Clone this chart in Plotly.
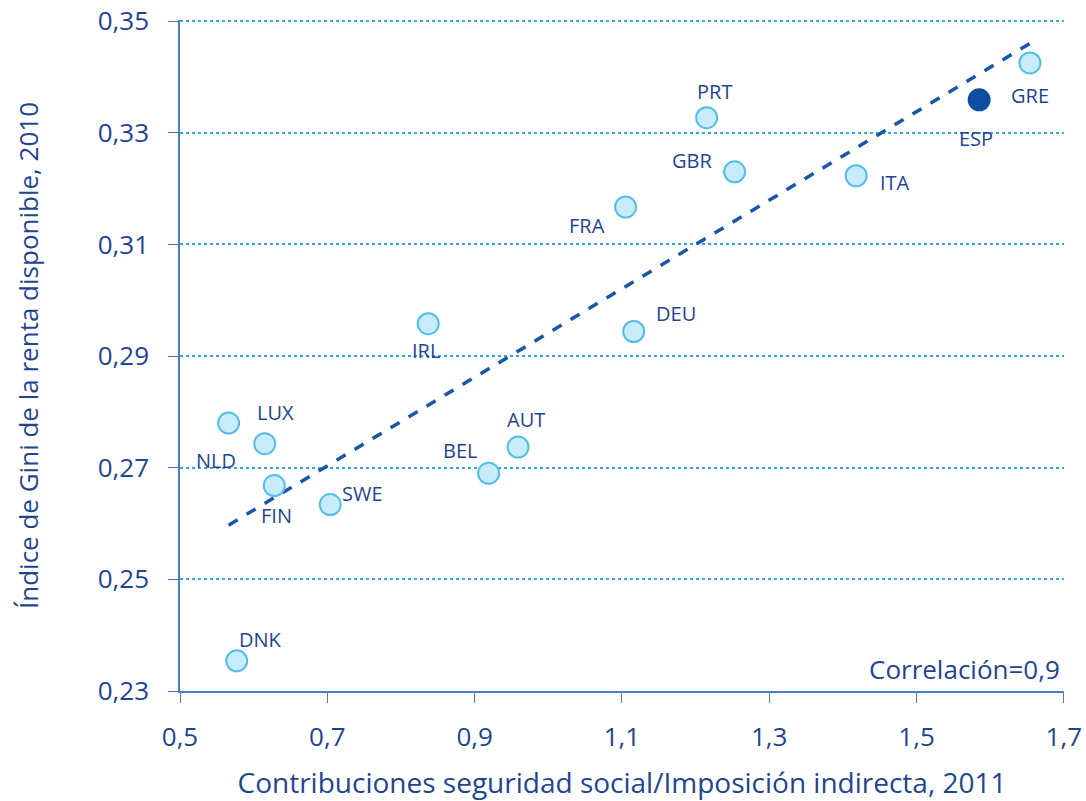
import numpy as np
import plotly.graph_objects as go

countries = ["NLD", "LUX", "FIN", "SWE", "DNK", "IRL", "BEL", "AUT", "DEU", "FRA", "PRT", "GBR", "ITA", "ESP", "GRE"]
x_vals = [0.566, 0.615, 0.628, 0.704, 0.577, 0.837, 0.919, 0.959, 1.116, 1.105, 1.215, 1.253, 1.418, 1.585, 1.654]
y_vals = [0.2780, 0.2743, 0.2668, 0.2634, 0.2354, 0.2958, 0.2690, 0.2737, 0.2944, 0.3167, 0.3327, 0.3230, 0.3223, 0.3359, 0.3425]
# label offsets in pixels (dx right, dy up)
label_dx = [-13, 11, 2, 32, 24, -2, -29, 8, 42, -39, 8, -43, 39, -3, 0]
label_dy = [-37, 31, -30, 11, 21, -27, 23, 28, 18, -18, 26, 11, -7, -39, -33]
x_ticks = [0.5, 0.7, 0.9, 1.1, 1.3, 1.5, 1.7]
y_ticks = [0.23, 0.25, 0.27, 0.29, 0.31, 0.33, 0.35]
highlight = "ESP"

TXT = "#1f4591"
AX = "#4a7cc7"
GRID = "#2fa8e0"
FONT = "Open Sans"

fig = go.Figure()

# trend line (OLS fit over the data range)
slope, intercept = np.polyfit(x_vals, y_vals, 1)
tx = np.array([min(x_vals), max(x_vals)])
fig.add_trace(go.Scatter(x=tx, y=slope * tx + intercept, mode="lines",
                         line=dict(color="#1857a8", width=3.5, dash="dash"),
                         hoverinfo="skip", showlegend=False))

colors = ["#0d4ea0" if c == highlight else "#c8ecfb" for c in countries]
borders = ["#0d4ea0" if c == highlight else "#55bde9" for c in countries]
fig.add_trace(go.Scatter(x=x_vals, y=y_vals, mode="markers",
                         marker=dict(size=21, color=colors, line=dict(color=borders, width=2)),
                         text=countries, showlegend=False))

for c, xv, yv, dx, dy in zip(countries, x_vals, y_vals, label_dx, label_dy):
    fig.add_annotation(x=xv, y=yv, text=c, showarrow=False, xshift=dx, yshift=dy,
                       font=dict(family=FONT, size=20, color=TXT))

fig.add_annotation(xref="paper", yref="paper", x=0.998, y=0.033, xanchor="right", yanchor="middle",
                   text="Correlación=0,9", showarrow=False,
                   font=dict(family=FONT, size=26, color=TXT))

fig.update_layout(
    width=1086, height=801,
    margin=dict(l=180, r=22, t=20, b=110, autoexpand=False),
    plot_bgcolor="white", paper_bgcolor="white",
    separators=",.",
    font=dict(family=FONT, color=TXT),
    xaxis=dict(range=[0.5, 1.7002], tickvals=x_ticks, tickformat=".1f",
               showgrid=False, zeroline=False, automargin=False,
               showline=True, linecolor=AX, linewidth=1.5,
               ticks="outside", ticklen=10, tickcolor=AX, ticklabelstandoff=12,
               ticklabeloverflow="allow",
               tickfont=dict(family=FONT, size=26, color=TXT),
               title=dict(text="Contribuciones seguridad social/Imposición indirecta, 2011",
                          font=dict(family=FONT, size=28, color=TXT), standoff=22)),
    yaxis=dict(range=[0.23, 0.3502], tickvals=y_ticks, tickformat=".2f",
               showgrid=True, gridcolor=GRID, griddash="dot", gridwidth=2,
               zeroline=False, automargin=False,
               showline=True, linecolor=AX, linewidth=1.5,
               ticks="outside", ticklen=10, tickcolor=AX, ticklabelstandoff=14,
               ticklabeloverflow="allow",
               tickfont=dict(family=FONT, size=26, color=TXT),
               title=dict(text="Índice de Gini de la renta disponible, 2010",
                          font=dict(family=FONT, size=26, color=TXT), standoff=52)),
)

fig.write_html("out.html", config={"displayModeBar": False},
               post_script="document.body.style.margin='0px';")
